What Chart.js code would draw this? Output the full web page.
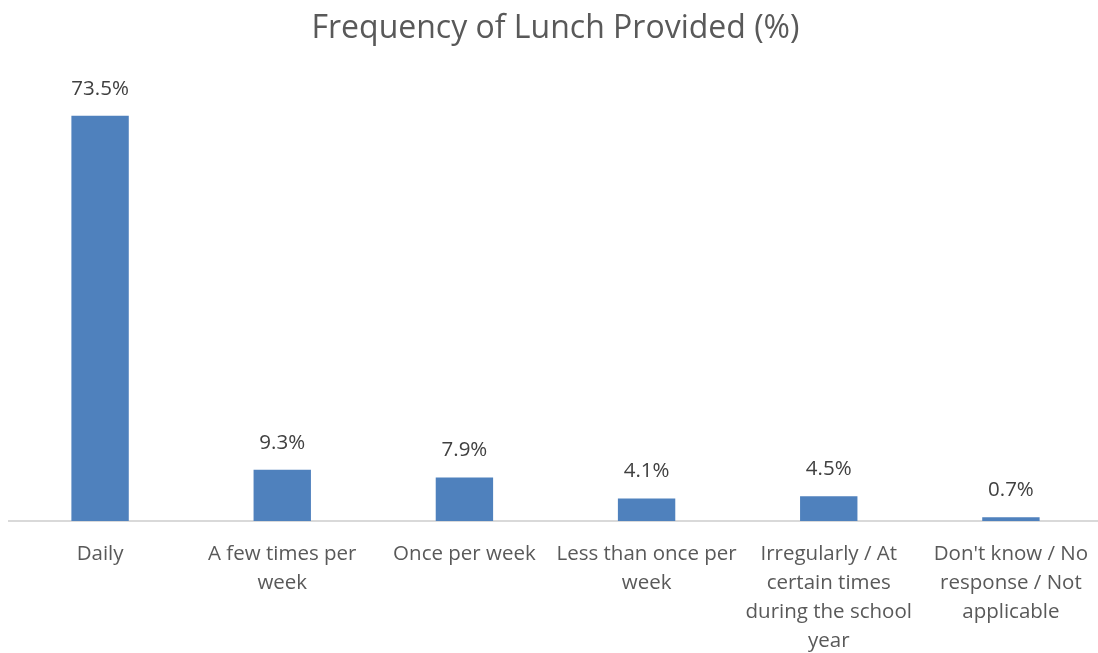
<!DOCTYPE html>
<html>
<head>
<meta charset="utf-8">
<script src="https://cdn.jsdelivr.net/npm/chart.js@4"></script>
<style>
  html, body { margin: 0; padding: 0; background: #fff; overflow: hidden; }
  canvas { display: block; }
</style>
</head>
<body>
<canvas id="lunchChart" width="1104" height="653"></canvas>
<script>
const categories = [
  'Daily',
  ['A few times per', 'week'],
  'Once per week',
  ['Less than once per', 'week'],
  ['Irregularly / At', 'certain times', 'during the school', 'year'],
  ["Don't know / No", 'response / Not', 'applicable']
];
const percentValues = [73.5, 9.3, 7.9, 4.1, 4.5, 0.7];

const fontFamily = '"Open Sans", "Noto Sans", sans-serif';

// draws the "73.5%" style labels above each bar
const barLabels = {
  id: 'barLabels',
  afterDatasetsDraw(chart) {
    const ctx = chart.ctx;
    const meta = chart.getDatasetMeta(0);
    ctx.save();
    ctx.font = '20.5px ' + fontFamily;
    ctx.fillStyle = '#404040';
    ctx.textAlign = 'center';
    ctx.textBaseline = 'middle';
    meta.data.forEach((bar, i) => {
      const v = chart.data.datasets[0].data[i];
      ctx.fillText(v.toFixed(1) + '%', bar.x, bar.y - 27);
    });
    ctx.restore();
  }
};

new Chart(document.getElementById('lunchChart'), {
  type: 'bar',
  data: {
    labels: categories,
    datasets: [{
      data: percentValues,
      backgroundColor: '#4f81bd',
      barPercentage: 1,
      categoryPercentage: 0.315
    }]
  },
  options: {
    responsive: false,
    animation: false,
    layout: { padding: { left: 9, right: 2, top: 0, bottom: 0 } },
    plugins: {
      legend: { display: false },
      tooltip: { enabled: false },
      title: {
        display: true,
        text: 'Frequency of Lunch Provided (%)',
        color: '#595959',
        font: { family: fontFamily, size: 32, weight: 'normal', lineHeight: 1.2 },
        padding: { top: 10, bottom: 31.6 }
      }
    },
    scales: {
      x: {
        grid: { display: false },
        border: { color: '#d9d9d9', width: 2 },
        ticks: {
          color: '#595959',
          maxRotation: 0,
          autoSkip: false,
          padding: 11,
          font: { family: fontFamily, size: 20.5, lineHeight: 1.415 }
        },
        afterFit(scale) { scale.height = 132; }
      },
      y: {
        display: false,
        min: 0,
        max: 80
      }
    }
  },
  plugins: [barLabels]
});
</script>
</body>
</html>
